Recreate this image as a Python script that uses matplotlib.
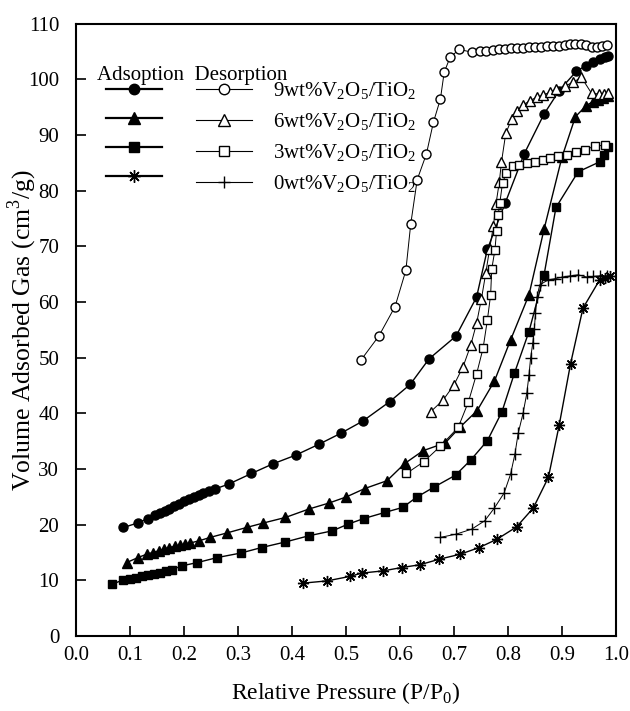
import numpy as np
import matplotlib
matplotlib.use("Agg")
import matplotlib.pyplot as plt
from matplotlib.lines import Line2D

plt.rcParams['font.family'] = ['Liberation Serif', 'DejaVu Serif']
plt.rcParams['mathtext.fontset'] = 'custom'
plt.rcParams['mathtext.rm'] = 'Liberation Serif'

# 9 wt% V2O5/TiO2
ads9_x = [0.088, 0.114, 0.133, 0.146, 0.155, 0.164, 0.173, 0.182, 0.191, 0.200, 0.209, 0.218,
          0.227, 0.236, 0.246, 0.257, 0.283, 0.325, 0.364, 0.407, 0.451, 0.490, 0.531, 0.581,
          0.619, 0.654, 0.704, 0.742, 0.762, 0.795, 0.830, 0.867, 0.895, 0.927, 0.945, 0.958,
          0.970, 0.980, 0.986]
ads9_y = [19.5, 20.3, 21.1, 21.7, 22.1, 22.5, 22.9, 23.4, 23.8, 24.2, 24.6, 25.0,
          25.3, 25.7, 26.0, 26.4, 27.3, 29.2, 30.9, 32.5, 34.5, 36.4, 38.6, 42.1,
          45.2, 49.8, 53.9, 60.9, 69.5, 77.8, 86.6, 93.8, 98.0, 101.5, 102.5, 103.2,
          103.7, 104.0, 104.3]
des9_x = [0.528, 0.561, 0.591, 0.611, 0.620, 0.632, 0.649, 0.662, 0.675, 0.682, 0.693, 0.710,
          0.733, 0.748, 0.760, 0.772, 0.784, 0.795, 0.806, 0.817, 0.828, 0.839, 0.850, 0.861,
          0.872, 0.883, 0.894, 0.905, 0.915, 0.925, 0.935, 0.945, 0.955, 0.965, 0.975, 0.984]
des9_y = [49.6, 53.9, 59.2, 65.7, 74.0, 82.0, 86.6, 92.3, 96.5, 101.3, 104.0, 105.4,
          104.9, 105.1, 105.2, 105.3, 105.4, 105.5, 105.6, 105.6, 105.7, 105.8, 105.8, 105.9,
          106.0, 106.0, 106.1, 106.2, 106.3, 106.3, 106.3, 106.2, 105.9, 105.9, 106.0, 106.2]

# 6 wt%
ads6_x = [0.094, 0.115, 0.131, 0.142, 0.153, 0.163, 0.173, 0.183, 0.193, 0.202, 0.211, 0.228,
          0.248, 0.279, 0.316, 0.347, 0.388, 0.431, 0.469, 0.501, 0.535, 0.576, 0.609, 0.643,
          0.684, 0.711, 0.743, 0.775, 0.805, 0.839, 0.867, 0.900, 0.925, 0.945, 0.957, 0.967,
          0.977, 0.986]
ads6_y = [13.2, 14.1, 14.7, 15.0, 15.3, 15.6, 15.9, 16.1, 16.3, 16.5, 16.7, 17.1,
          17.7, 18.5, 19.5, 20.3, 21.3, 22.8, 23.9, 25.0, 26.5, 27.9, 31.0, 33.3,
          34.7, 37.5, 40.5, 45.8, 53.2, 61.3, 73.1, 86.0, 93.3, 95.3, 96.0, 96.4,
          96.7, 97.0]
des6_x = [0.657, 0.680, 0.700, 0.717, 0.731, 0.742, 0.751, 0.759, 0.766, 0.773, 0.778, 0.784,
          0.788, 0.796, 0.807, 0.817, 0.828, 0.841, 0.853, 0.865, 0.878, 0.890, 0.905, 0.921,
          0.936, 0.955, 0.968, 0.978, 0.986]
des6_y = [40.3, 42.4, 45.1, 48.4, 52.2, 56.2, 60.6, 65.2, 69.5, 73.6, 77.7, 81.5,
          85.1, 90.3, 92.9, 94.4, 95.4, 96.2, 96.8, 97.2, 97.7, 98.3, 98.8, 99.5,
          100.4, 97.5, 97.4, 97.4, 97.5]

# 3 wt%
ads3_x = [0.067, 0.088, 0.100, 0.111, 0.122, 0.133, 0.144, 0.155, 0.166, 0.177, 0.196, 0.225,
          0.262, 0.305, 0.344, 0.388, 0.431, 0.475, 0.504, 0.533, 0.572, 0.605, 0.632, 0.664,
          0.703, 0.731, 0.762, 0.789, 0.812, 0.839, 0.867, 0.889, 0.930, 0.970, 0.978, 0.985]
ads3_y = [9.3, 10.1, 10.3, 10.5, 10.8, 11.0, 11.2, 11.4, 11.6, 11.9, 12.6, 13.2,
          14.1, 14.9, 15.9, 16.9, 18.0, 18.9, 20.1, 21.1, 22.2, 23.1, 25.0, 26.8,
          28.9, 31.6, 35.1, 40.3, 47.2, 54.7, 64.9, 77.0, 83.4, 85.2, 86.5, 87.8]
des3_x = [0.612, 0.644, 0.675, 0.708, 0.727, 0.742, 0.754, 0.762, 0.768, 0.770, 0.776, 0.779,
          0.782, 0.785, 0.790, 0.797, 0.810, 0.821, 0.835, 0.850, 0.865, 0.878, 0.893, 0.909,
          0.927, 0.943, 0.961, 0.980]
des3_y = [29.2, 31.3, 34.1, 37.5, 42.1, 47.1, 51.7, 56.8, 61.3, 65.9, 69.4, 72.8,
          75.7, 77.8, 81.4, 83.2, 84.4, 84.7, 85.0, 85.1, 85.6, 85.9, 86.2, 86.5,
          86.9, 87.4, 88.0, 88.2]

# 0 wt%
ads0_x = [0.421, 0.465, 0.507, 0.529, 0.569, 0.603, 0.637, 0.673, 0.712, 0.747, 0.780, 0.816,
          0.847, 0.875, 0.895, 0.916, 0.939, 0.970, 0.980, 0.989]
ads0_y = [9.5, 9.9, 10.7, 11.3, 11.7, 12.3, 12.8, 13.8, 14.7, 15.9, 17.4, 19.6,
          23.0, 28.5, 37.9, 48.9, 58.9, 64.0, 64.4, 64.6]
des0_x = [0.674, 0.704, 0.733, 0.757, 0.775, 0.793, 0.805, 0.813, 0.819, 0.828, 0.835, 0.839,
          0.842, 0.846, 0.849, 0.851, 0.854, 0.859, 0.875, 0.887, 0.901, 0.915, 0.930, 0.946,
          0.958, 0.970, 0.983]
des0_y = [17.7, 18.3, 19.2, 20.7, 23.0, 25.7, 29.1, 32.7, 36.4, 40.0, 43.6, 46.9,
          49.9, 52.6, 55.2, 58.0, 61.0, 63.1, 64.0, 64.2, 64.5, 64.7, 64.9, 64.5,
          64.6, 64.7, 64.7]

names = ['9wt%V$_2$O$_5$/TiO$_2$', '6wt%V$_2$O$_5$/TiO$_2$',
         '3wt%V$_2$O$_5$/TiO$_2$', '0wt%V$_2$O$_5$/TiO$_2$']

fig = plt.figure(figsize=(6.3, 7.11), dpi=100)
ax = fig.add_axes([0.1206, 0.1055, 0.857, 0.861])

ads_sets = [(ads9_x, ads9_y, 'o', 6.5), (ads6_x, ads6_y, '^', 7),
            (ads3_x, ads3_y, 's', 6), (ads0_x, ads0_y, (8, 2, 0), 8)]
des_sets = [(des9_x, des9_y, 'o', 6.5), (des6_x, des6_y, '^', 7),
            (des3_x, des3_y, 's', 6), (des0_x, des0_y, '+', 8)]

ads_handles = []
for x, y, m, ms in ads_sets:
    ax.plot(x, y, color='black', lw=1.0, marker=m, ms=ms,
            mfc='black', mec='black', mew=1.0)
    ads_handles.append(Line2D([], [], color='black', lw=1.6, marker=m, ms=ms + 1,
                              mfc='black', mec='black', mew=1.0))
des_handles = []
for x, y, m, ms in des_sets:
    ax.plot(x, y, color='black', lw=0.7, marker=m, ms=ms,
            mfc='white', mec='black', mew=1.0)
    des_handles.append(Line2D([], [], color='black', lw=0.8, marker=m, ms=ms + 1,
                              mfc='white', mec='black', mew=1.0))

ax.set_xlim(0.0, 1.0)
ax.set_ylim(0, 110)
ax.set_xticks(np.arange(0, 1.01, 0.1))
ax.set_yticks(np.arange(0, 111, 10))
ax.set_xticklabels(['%.1f' % v for v in np.arange(0, 1.01, 0.1)])
ax.tick_params(direction='in', length=7, width=1.2, labelsize=15)
ax.tick_params(axis='x', pad=7)
ax.tick_params(axis='y', pad=12)
for s in ax.spines.values():
    s.set_linewidth(1.5)

ax.set_xlabel('Relative Pressure (P/P$_0$)', fontsize=17, labelpad=11)
ax.set_ylabel('Volume Adsorbed Gas (cm$^3$/g)', fontsize=18.5)
ax.yaxis.set_label_coords(-0.068, 0.5)

ax.text(0.039, 0.908, 'Adsoption  Desorption', transform=ax.transAxes,
        fontsize=15, va='baseline', ha='left')
ax.legend(ads_handles + des_handles, [''] * 4 + names, ncol=2,
          loc='upper left', bbox_to_anchor=(0.0285, 0.932), frameon=False,
          fontsize=15, handlelength=2.7, handletextpad=1.0, columnspacing=0.6,
          labelspacing=0.45, borderpad=0.2)

fig.savefig('out.png', dpi=100)
